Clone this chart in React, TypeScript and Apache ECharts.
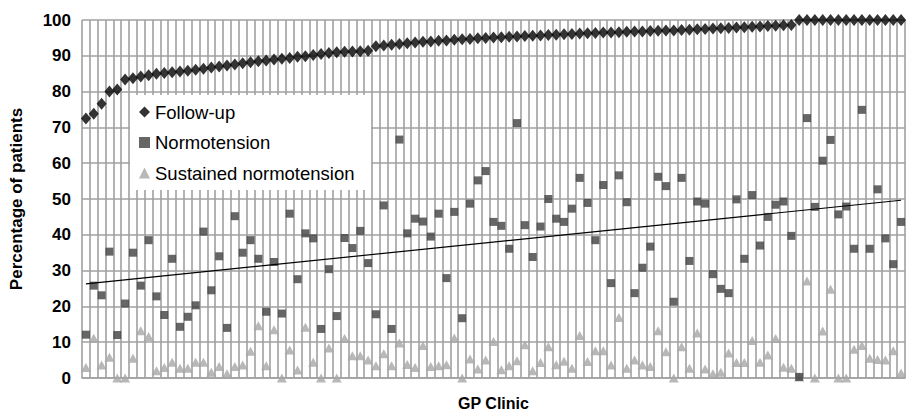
import React, { useEffect, useRef } from "react";
import * as echarts from "echarts";

const followUp = [
  72.5, 73.8, 76.6, 80.0, 80.6, 83.4, 83.7, 84.2, 84.6, 85.0,
  85.2, 85.4, 85.6, 85.8, 86.1, 86.4, 86.7, 87.0, 87.3, 87.6,
  87.9, 88.2, 88.5, 88.7, 89.0, 89.2, 89.4, 89.7, 89.9, 90.2,
  90.5, 90.8, 91.0, 91.1, 91.2, 91.3, 91.4, 92.7, 92.9, 93.1,
  93.3, 93.5, 93.7, 93.9, 94.0, 94.2, 94.3, 94.5, 94.6, 94.7,
  94.9, 95.0, 95.1, 95.2, 95.3, 95.4, 95.5, 95.6, 95.7, 95.8,
  95.9, 96.0, 96.1, 96.2, 96.3, 96.4, 96.5, 96.5, 96.6, 96.7,
  96.8, 96.8, 96.9, 97.0, 97.1, 97.1, 97.2, 97.3, 97.4, 97.5,
  97.6, 97.7, 97.8, 97.9, 98.0, 98.1, 98.2, 98.3, 98.4, 98.5,
  98.6, 100, 100, 100, 100, 100, 100, 100, 100, 100,
  100, 100, 100, 100, 100,
];

const normotension = [
  12.1, 25.8, 23.1, 35.3, 12.0, 20.8, 35.0, 25.8, 38.5, 22.8,
  17.6, 33.3, 14.3, 17.1, 20.3, 40.9, 24.5, 34.0, 14.0, 45.2,
  35.0, 38.5, 33.3, 18.5, 32.4, 18.0, 45.9, 27.6, 40.4, 39.0,
  13.7, 30.4, 17.3, 39.1, 36.3, 41.1, 32.1, 17.8, 48.2, 13.7,
  66.6, 40.4, 44.5, 43.7, 39.5, 45.9, 27.9, 46.4, 16.7, 48.7,
  55.2, 57.8, 43.6, 42.5, 36.1, 71.2, 42.7, 33.8, 42.3, 50.0,
  44.5, 43.6, 47.3, 55.9, 48.9, 38.5, 53.9, 26.5, 56.6, 49.1,
  23.7, 30.8, 36.7, 56.2, 53.6, 21.3, 55.9, 32.7, 49.3, 48.7,
  29.0, 24.9, 23.7, 49.9, 33.3, 51.1, 37.0, 45.0, 48.4, 49.3,
  39.7, 0.3, 72.6, 47.8, 60.7, 66.5, 45.7, 47.9, 36.1, 74.9,
  36.1, 52.7, 39.0, 31.8, 43.6,
];

const sustained = [
  2.9, 11.1, 3.6, 5.8, 0, 0, 5.5, 13.2, 11.6, 2.0,
  2.9, 4.4, 2.7, 2.7, 4.4, 4.4, 1.6, 3.2, 1.2, 3.2,
  3.6, 7.5, 14.6, 3.4, 13.5, 0, 7.8, 2.2, 14.2, 4.4,
  0, 8.4, 0, 11.0, 6.2, 6.2, 5.0, 3.4, 6.8, 3.4,
  9.8, 3.8, 2.9, 9.1, 3.2, 3.4, 3.7, 11.2, 0, 5.3,
  2.5, 5.0, 10.2, 2.3, 3.4, 4.8, 9.3, 2.0, 4.3, 8.7,
  3.7, 4.7, 2.7, 11.9, 4.6, 7.6, 7.6, 3.6, 16.9, 2.7,
  5.0, 3.6, 3.2, 13.2, 7.3, 0, 8.7, 2.7, 12.6, 2.5,
  1.2, 1.6, 7.0, 4.3, 4.3, 10.5, 4.4, 6.4, 11.0, 3.0,
  2.7, 0.3, 27.1, 0, 13.1, 24.8, 0, 0, 8.0, 9.1,
  5.5, 5.2, 5.0, 7.6, 1.4,
];

const yTickLabels = ["0", "10", "20", "30", "40", "50", "60", "70", "80", "90", "100"];
const legendNames = ["Follow-up", "Normotension", "Sustained normotension"];
const clinics = followUp.map((_, i) => String(i + 1));

function linearFit(values: number[]) {
  const n = values.length;
  let sx = 0, sy = 0, sxx = 0, sxy = 0;
  values.forEach((v, i) => {
    sx += i; sy += v; sxx += i * i; sxy += i * v;
  });
  const b = (n * sxy - sx * sy) / (n * sxx - sx * sx);
  const a = (sy - b * sx) / n;
  return { a, b };
}

const FONT = "'Liberation Sans', Arial, sans-serif";

export default function App() {
  const ref = useRef<HTMLDivElement>(null);
  useEffect(() => {
    const chart = echarts.init(ref.current!, null, { renderer: "svg" });
    const n = normotension.length;
    const fit = linearFit(normotension);
    const trend = normotension.map((_, i) =>
      i === 0 || i === n - 1 ? +(fit.a + fit.b * i).toFixed(2) : null
    );
    chart.setOption({
      animation: false,
      backgroundColor: "#ffffff",
      textStyle: { fontFamily: FONT },
      grid: { left: 79, right: 2, top: 20, bottom: 31, containLabel: false },
      xAxis: {
        type: "category",
        data: clinics,
        boundaryGap: true,
        name: "GP Clinic",
        nameLocation: "middle",
        nameGap: 17,
        nameTextStyle: { fontFamily: FONT, fontWeight: "bold", fontSize: 16, color: "#000" },
        axisLine: { show: true, lineStyle: { color: "#a0a0a0", width: 1.5 } },
        axisTick: { show: false },
        axisLabel: { show: false },
        splitLine: { show: true, interval: 0, lineStyle: { color: "#a0a0a0", width: 1.6 } },
      },
      yAxis: {
        type: "value",
        min: 0,
        max: 100,
        interval: 10,
        name: "Percentage of patients",
        nameLocation: "middle",
        nameRotate: 90,
        nameGap: 57,
        nameTextStyle: { fontFamily: FONT, fontWeight: "bold", fontSize: 17, color: "#000" },
        axisLine: { show: false },
        axisTick: { show: false },
        axisLabel: {
          margin: 11,
          fontFamily: FONT,
          fontWeight: "bold",
          fontSize: 17,
          color: "#000",
          formatter: (v: number) => yTickLabels[Math.round(v / 10)] ?? String(v),
        },
        splitLine: { show: true, lineStyle: { color: "#a0a0a0", width: 1.6 } },
      },
      legend: {
        show: true,
        data: [
          { name: legendNames[0], icon: "diamond" },
          { name: legendNames[1], icon: "rect" },
          { name: legendNames[2], icon: "triangle" },
        ],
        orient: "vertical",
        left: 139,
        top: 102,
        padding: 0,
        itemWidth: 11,
        itemHeight: 11,
        itemGap: 10.5,
        z: 10,
        textStyle: { fontFamily: FONT, fontSize: 18.5, color: "#000", lineHeight: 20 },
      },
      graphic: {
        elements: [
          {
            type: "rect",
            z: 9,
            shape: { x: 130, y: 95, width: 241, height: 95 },
            style: { fill: "#ffffff" },
          },
        ],
      },
      series: [
        {
          name: legendNames[2],
          type: "scatter",
          data: sustained,
          symbol: "triangle",
          symbolSize: [10, 9],
          itemStyle: { color: "#a6a6a6" },
          z: 3,
        },
        {
          name: legendNames[1],
          type: "scatter",
          data: normotension,
          symbol: "rect",
          symbolSize: 8,
          itemStyle: { color: "#404040" },
          z: 4,
        },
        {
          name: legendNames[0],
          type: "scatter",
          data: followUp,
          symbol: "diamond",
          symbolSize: [10, 12],
          itemStyle: { color: "#000000" },
          z: 5,
        },
        {
          name: "Linear (Normotension)",
          type: "line",
          data: trend,
          connectNulls: true,
          symbol: "none",
          lineStyle: { color: "#000000", width: 1.2 },
          z: 6,
        },
      ],
    });
    return () => chart.dispose();
  }, []);
  return (
    <div
      ref={ref}
      style={{ position: "absolute", left: 0, top: 0, width: 907, height: 416 }}
    />
  );
}
